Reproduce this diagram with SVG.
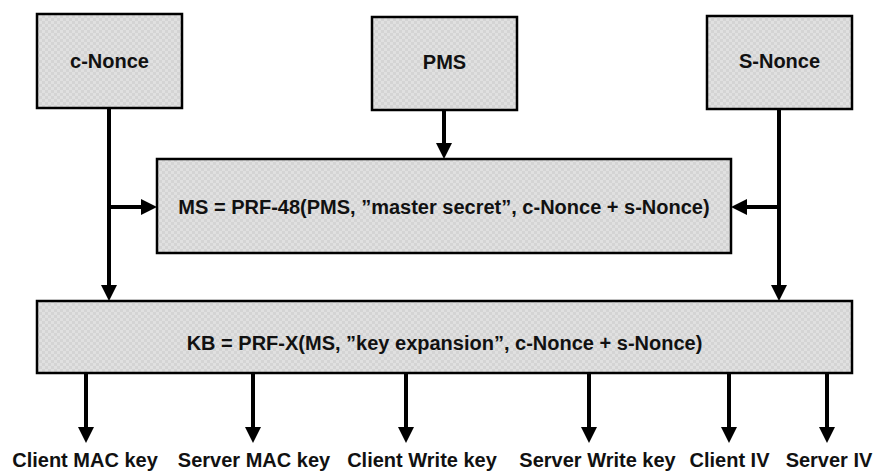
<svg xmlns="http://www.w3.org/2000/svg" width="875" height="471" viewBox="0 0 875 471">
<defs>
<pattern id="hatch" width="6" height="6" patternUnits="userSpaceOnUse">
<rect width="6" height="6" fill="#d4d4d4"/>
<rect width="3" height="3" fill="#e0e0e0"/>
<rect x="3" y="3" width="3" height="3" fill="#e0e0e0"/>
</pattern>
<marker id="arr" markerUnits="userSpaceOnUse" markerWidth="18" markerHeight="18" refX="0" refY="8" orient="auto" viewBox="0 0 18 16">
<path d="M0,0 L16,8 L0,16 Z" fill="#000"/>
</marker>
<style>
.box{fill:url(#hatch);stroke:#000;stroke-width:2.5}
.t{font-family:"Liberation Sans",Arial,sans-serif;font-weight:bold;font-size:20px;fill:#111;text-anchor:middle}
.a{stroke:#000;stroke-width:4;fill:none;marker-end:url(#arr)}
</style>
</defs>
<rect width="875" height="471" fill="#fff"/>
<g id="c-nonce"><rect class="box" x="37" y="14" width="145" height="94"/><text class="t" x="109.5" y="68">c-Nonce</text></g>
<g id="pms"><rect class="box" x="372" y="17" width="145" height="93"/><text class="t" x="444.5" y="69">PMS</text></g>
<g id="s-nonce"><rect class="box" x="707" y="16" width="145" height="93"/><text class="t" x="779.5" y="68">S-Nonce</text></g>
<g id="ms"><rect class="box" x="157" y="159" width="574" height="94"/><text class="t" x="444" y="214">MS = PRF-48(PMS, ”master secret”, c-Nonce + s-Nonce)</text></g>
<g id="kb"><rect class="box" x="37" y="301" width="815" height="72"/><text class="t" x="444.5" y="350">KB = PRF-X(MS, ”key expansion”, c-Nonce + s-Nonce)</text></g>
<g id="connectors">
<line class="a" x1="444" y1="110" x2="444" y2="143"/>
<line class="a" x1="109" y1="108" x2="109" y2="285"/>
<line class="a" x1="109" y1="207" x2="141" y2="207"/>
<line class="a" x1="779" y1="109" x2="779" y2="285"/>
<line class="a" x1="779" y1="207" x2="747" y2="207"/>
<line class="a" x1="86" y1="373" x2="86" y2="427"/>
<line class="a" x1="253" y1="373" x2="253" y2="427"/>
<line class="a" x1="406" y1="373" x2="406" y2="427"/>
<line class="a" x1="589" y1="373" x2="589" y2="427"/>
<line class="a" x1="729" y1="373" x2="729" y2="427"/>
<line class="a" x1="827" y1="373" x2="827" y2="427"/>
</g>
<g id="labels">
<text class="t" x="85" y="467">Client MAC key</text>
<text class="t" x="254" y="467">Server MAC key</text>
<text class="t" x="422" y="467">Client Write key</text>
<text class="t" x="597.5" y="467">Server Write key</text>
<text class="t" x="729.5" y="467">Client IV</text>
<text class="t" x="829" y="467">Server IV</text>
</g>
</svg>
